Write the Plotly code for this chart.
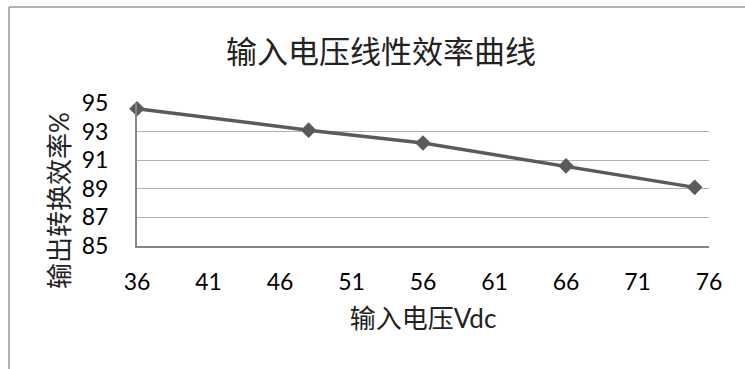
import plotly.graph_objects as go

# Input voltage (Vdc) and output conversion efficiency (%)
voltage = [36, 48, 56, 66, 75]
efficiency = [94.6, 93.1, 92.2, 90.6, 89.1]

x_ticks = [36, 41, 46, 51, 56, 61, 66, 71, 76]
y_ticks = [85, 87, 89, 91, 93, 95]

W, H = 745, 369
L, R, T, B = 137, 36, 103, 123
pw, ph = W - L - R, H - T - B

def px(x):
    return (x - L) / pw

def py(y):
    return 1 - (y - T) / ph

FONT = "Lato, 'Noto Sans CJK SC', sans-serif"

fig = go.Figure()
fig.add_trace(go.Scatter(
    x=voltage, y=efficiency, mode="lines+markers",
    line=dict(color="#5a5a5a", width=3.5),
    marker=dict(symbol="diamond", size=12, color="#5a5a5a"),
    showlegend=False, cliponaxis=False,
))

fig.update_layout(
    width=W, height=H,
    margin=dict(l=L, r=R, t=T, b=B),
    paper_bgcolor="white", plot_bgcolor="white",
    font=dict(family=FONT, color="#000000", size=23),
    title=dict(
        text="输入电压线性效率曲线",
        x=px(381), xref="paper", xanchor="center",
        y=1 - 52 / H, yanchor="middle",
        font=dict(family="'Noto Sans CJK SC', sans-serif", size=31, color="#222222"),
    ),
    xaxis=dict(
        range=[36, 76], tickvals=x_ticks, showgrid=False, zeroline=False,
        showline=True, linecolor="#868686", linewidth=2,
        ticks="", ticklabelstandoff=14,
        tickfont=dict(size=23),
        title=dict(text="输入电压Vdc", standoff=16,
                   font=dict(family=FONT, size=26, color="#222222")),
    ),
    yaxis=dict(
        range=[85, 95], tickvals=y_ticks, showgrid=True, gridcolor="#b0b0b0",
        gridwidth=1.2, zeroline=False,
        showline=True, linecolor="#868686", linewidth=2,
        ticks="", ticklabelstandoff=22,
        tickfont=dict(size=23),
    ),
)

# Vertical axis title, placed below the plot-area centre
fig.add_annotation(
    text="输出转换效率%", textangle=-90, showarrow=False,
    xref="paper", yref="paper", x=px(59), y=py(201),
    xanchor="center", yanchor="middle",
    font=dict(family=FONT, size=26, color="#222222"),
)

# Chart-area border (top and left edges)
border = dict(color="#9a9a9a", width=1.5)
fig.add_shape(type="line", xref="paper", yref="paper",
              x0=px(9), x1=px(W + 5), y0=py(7), y1=py(7), line=border)
fig.add_shape(type="line", xref="paper", yref="paper",
              x0=px(9), x1=px(9), y0=py(7), y1=py(H + 5), line=border)

fig.write_html("out.html")
